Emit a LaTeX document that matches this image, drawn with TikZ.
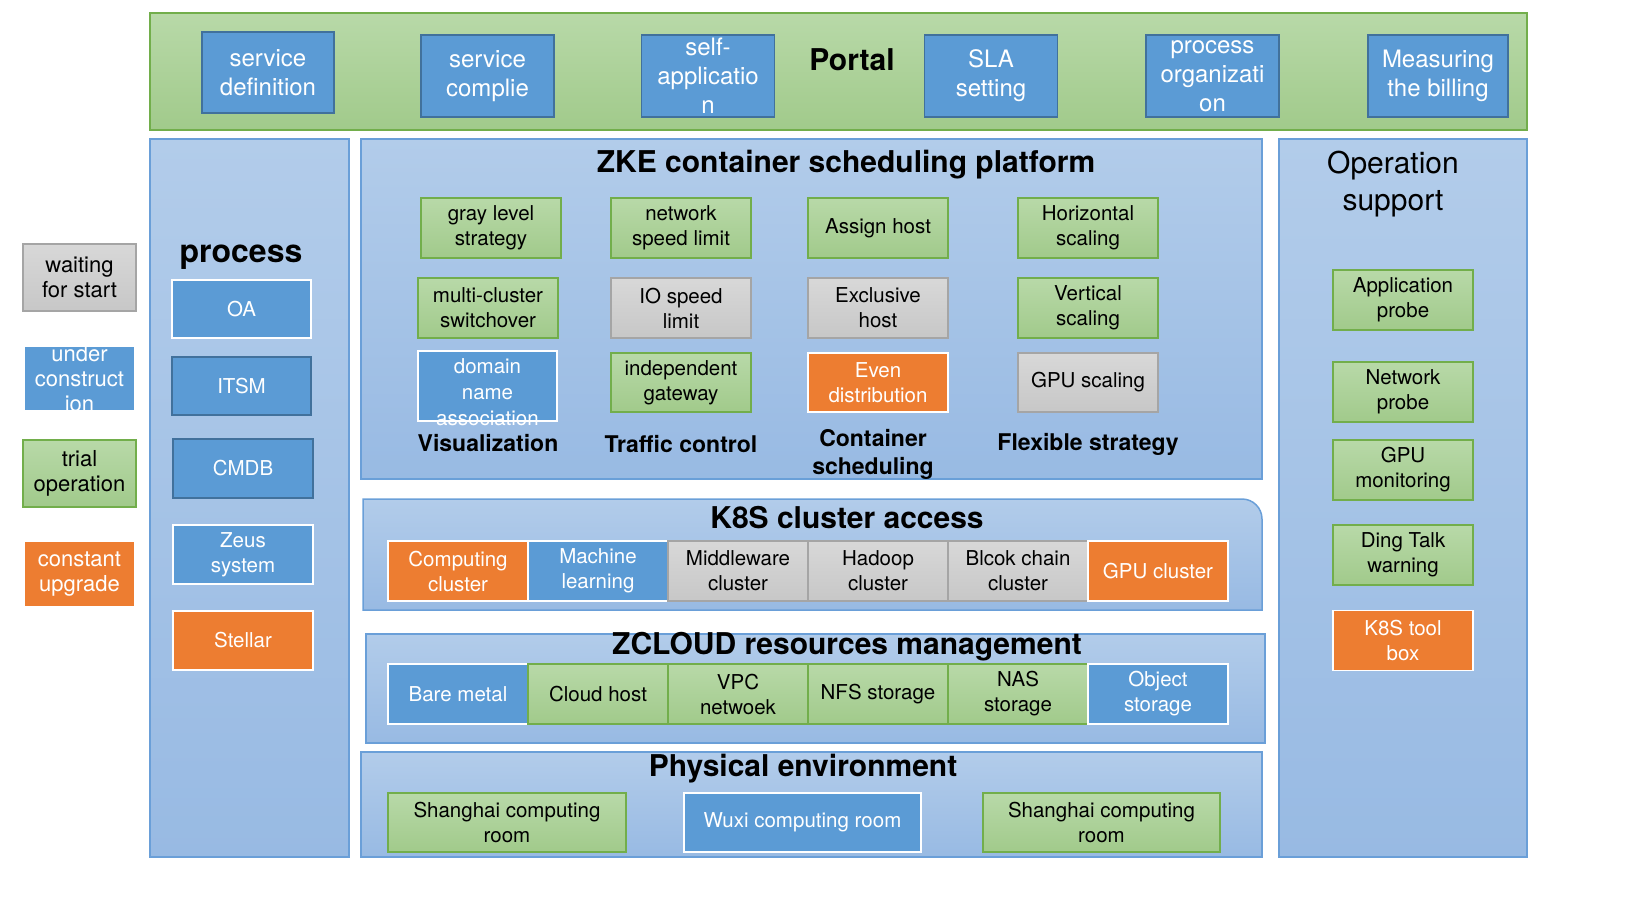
\documentclass[tikz,border=0pt]{standalone}
\usepackage{fontspec}
\setmainfont{TeX Gyre Heros}

\definecolor{grnline}{HTML}{72AE4B}
\definecolor{grntop}{HTML}{B8D9A8}
\definecolor{grnbot}{HTML}{A1CA8B}
\definecolor{blufill}{HTML}{5B9BD5}
\definecolor{bluline}{HTML}{41719C}
\definecolor{grytop}{HTML}{D8D8D8}
\definecolor{grybot}{HTML}{C7C7C7}
\definecolor{gryline}{HTML}{A5A5A5}
\definecolor{orgfill}{HTML}{ED7D31}
\definecolor{pantop}{HTML}{B2CCEA}
\definecolor{panbot}{HTML}{98BAE3}
\definecolor{panline}{HTML}{6A9FD8}

\tikzset{
    box/.style={rectangle, minimum width=140pt, minimum height=60pt, inner sep=0pt,
        align=center, line width=1.5pt, font=\fontsize{20.5}{25}\selectfont},
    grn/.style={box, draw=grnline, top color=grntop, bottom color=grnbot},
    blu/.style={box, draw=bluline, fill=blufill, text=white},
    bluw/.style={blu, draw=white},
    gry/.style={box, draw=gryline, top color=grytop, bottom color=grybot},
    org/.style={box, draw=white, fill=orgfill, text=white},
    portalbox/.style={blu, minimum width=133pt, minimum height=82pt, font=\fontsize{24}{29}\selectfont},
    panel/.style={draw=panline, line width=1.5pt, top color=pantop, bottom color=panbot},
    title/.style={font=\fontsize{30}{34}\selectfont\bfseries},
    sub/.style={font=\fontsize{23}{28}\selectfont\bfseries, align=center},
}

\begin{document}
\begin{tikzpicture}[x=1pt, y=-1pt]
    \useasboundingbox (0,0) rectangle (1636,918);

    % legend
    \node[gry, minimum width=113pt, minimum height=67pt, font=\fontsize{22}{25}\selectfont] (wait) at (79.5,277.5) {waiting\\for start};
    \node[blu, draw=none, minimum width=109pt, minimum height=63pt,
        label={[white, align=center, font=\fontsize{22}{25}\selectfont]center:{under\\construct\\ion}}] (under) at (79.5,378.5) {};
    \node[grn, minimum width=113pt, minimum height=67pt, font=\fontsize{22}{25}\selectfont] (trial) at (79.5,473.5) {trial\\operation};
    \node[org, draw=none, minimum width=109pt, minimum height=64pt, font=\fontsize{22}{25}\selectfont] (upgrade) at (79.5,574) {constant\\upgrade};

    % portal
    \draw[draw=grnline, line width=2pt, top color=grntop, bottom color=grnbot] (150,13) rectangle (1527,130);
    \node[portalbox, minimum width=132pt, minimum height=81pt] (define) at (268,72.5) {service\\definition};
    \node[portalbox] (complie) at (487.5,76) {service\\complie};
    \node[portalbox] (selfapp) at (708,76) {self-\\applicatio\\n};
    \node[title] (portal) at (852,60) {Portal};
    \node[portalbox] (sla) at (991,76) {SLA\\setting};
    \node[portalbox] (organize) at (1212.5,76) {process\\organizati\\on};
    \node[portalbox, minimum width=140pt] (billing) at (1438,76) {Measuring\\the billing};

    % process
    \draw[panel] (150,139) rectangle (349,857);
    \node[title, font=\fontsize{32}{36}\selectfont\bfseries] (process) at (241,257) {process};
    \node[bluw, minimum width=139pt, minimum height=58pt] (oa) at (241.5,309) {OA};
    \node[blu, minimum width=139pt, minimum height=58pt] (itsm) at (241.5,386) {ITSM};
    \node[blu, minimum height=59pt] (cmdb) at (243,468.5) {CMDB};
    \node[bluw, minimum height=59pt] (zeus) at (243,554.5) {Zeus\\system};
    \node[org, minimum height=59pt] (stellar) at (243,640.5) {Stellar};

    % ZKE
    \draw[panel] (361,139) rectangle (1262,479);
    \node[title] (zke) at (846,165) {ZKE container scheduling platform};
    \node[grn] (gray) at (491,228) {gray level\\strategy};
    \node[grn] (netlimit) at (681,228) {network\\speed limit};
    \node[grn] (assign) at (878,228) {Assign host};
    \node[grn] (hscale) at (1088,228) {Horizontal\\scaling};
    \node[grn] (switch) at (488,308) {multi-cluster\\switchover};
    \node[gry] (iolimit) at (681,308) {IO speed\\limit};
    \node[gry] (exclusive) at (878,308) {Exclusive\\host};
    \node[grn] (vscale) at (1088,308) {Vertical\\scaling};
    \node[bluw, minimum width=139pt, minimum height=70pt,
        label={[white, align=center, font=\fontsize{20.5}{26}\selectfont, yshift=-6pt]center:{domain\\name\\association}}] (domain) at (487.5,386) {};
    \node[grn, minimum height=59pt] (gateway) at (681,382.5) {independent\\gateway};
    \node[org, minimum height=59pt] (even) at (878,382.5) {Even\\distribution};
    \node[gry, minimum height=59pt] (gpuscale) at (1088,382.5) {GPU scaling};
    \node[sub] (visual) at (488,443) {Visualization};
    \node[sub] (traffic) at (681,444) {Traffic control};
    \node[sub] (sched) at (873,454) {Container\\scheduling};
    \node[sub] (flex) at (1088,444) {Flexible strategy};

    % K8S
    \draw[panel] (363,610) -- (363,499) -- (1242,499) arc[start angle=270, end angle=360, radius=20] -- (1262,610) -- cycle;
    \node[title] (k8s) at (847,518) {K8S cluster access};
    \foreach \s/\t [count=\i] in {org/{Computing\\cluster}, bluw/{Machine\\learning}, gry/{Middleware\\cluster},
        gry/{Hadoop\\cluster}, gry/{Blcok chain\\cluster}, org/{GPU cluster}}
        \node[\s] (k\i) at (318+140*\i,571) {\t};

    % ZCLOUD
    \draw[panel] (366,634) rectangle (1265,743);
    \node[title] (zcloud) at (847,647) {ZCLOUD resources management};
    \foreach \s/\t [count=\i] in {bluw/{Bare metal}, grn/{Cloud host}, grn/{VPC\\netwoek},
        grn/{NFS storage}, grn/{NAS\\storage}, bluw/{Object\\storage}}
        \node[\s] (z\i) at (318+140*\i,694) {\t};

    % physical
    \draw[panel] (361,752) rectangle (1262,857);
    \node[title] (phys) at (803,769) {Physical environment};
    \node[grn, minimum width=238pt, minimum height=59pt] (sh1) at (507,822.5) {Shanghai computing\\room};
    \node[bluw, minimum width=237pt, minimum height=59pt] (wuxi) at (802.5,822.5) {Wuxi computing room};
    \node[grn, minimum width=237pt, minimum height=59pt] (sh2) at (1101.5,822.5) {Shanghai computing\\room};

    % operation support
    \draw[panel] (1279,139) rectangle (1527,857);
    \node[align=center, font=\fontsize{30}{37}\selectfont] (ops) at (1393,184) {Operation\\support};
    \foreach \s/\t/\y [count=\i] in {grn/{Application\\probe}/300, grn/{Network\\probe}/392, grn/{GPU\\monitoring}/470,
        grn/{Ding Talk\\warning}/555, org/{K8S tool\\box}/640.5}
        \node[\s] (o\i) at (1403,\y) {\t};
\end{tikzpicture}
\end{document}
